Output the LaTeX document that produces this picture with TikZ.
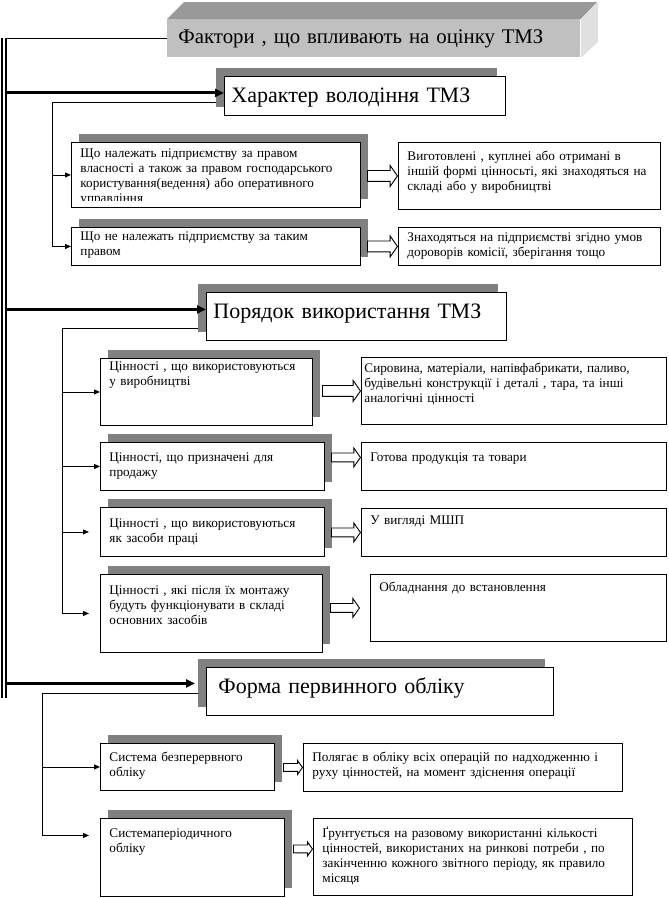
\documentclass[tikz,border=0pt]{standalone}
\usepackage{fontspec}
\setmainfont{Liberation Serif}
\definecolor{shgray}{RGB}{128,128,128}
\definecolor{tgfront}{RGB}{192,192,192}
\definecolor{tgtop}{RGB}{153,153,153}
\definecolor{tgside}{RGB}{224,224,224}
\usetikzlibrary{arrows.meta,positioning,shapes.arrows,shadows,calc}

\begin{document}
\begin{tikzpicture}[x=1pt, y=-1pt, line width=0.9pt,
  hbox/.style={rectangle, draw, fill=white, anchor=north west, align=left,
               font=\fontsize{22}{26}\selectfont, inner xsep=7pt, inner ysep=4pt, text height=22pt,
               drop shadow={shadow xshift=-8pt, shadow yshift=8pt, fill=shgray, opacity=1}},
  sbox/.style={rectangle, draw, fill=white, anchor=north west, align=left,
               font=\fontsize{13.2}{15}\selectfont, inner xsep=9pt, inner ysep=4pt, text height=12pt,
               drop shadow={shadow xshift=8pt, shadow yshift=8pt, fill=shgray, opacity=1}},
  rbox/.style={rectangle, draw, fill=white, anchor=north west, align=left,
               font=\fontsize{13.2}{15}\selectfont, inner xsep=9pt, inner ysep=4pt, text height=12pt},
  farr/.style={-{Triangle[length=6pt, width=5pt]}},
  harr/.style={-{Triangle[length=9pt, width=8pt]}, line width=3pt},
  barr/.style={single arrow, draw, fill=white, anchor=tip, inner xsep=0pt, inner ysep=5pt,
               minimum width=0pt, single arrow head extend=5pt, single arrow tip angle=110}
]
\useasboundingbox (0,0) rectangle (669,898);

% Title block
\node[fill=tgfront, anchor=north west, minimum width=413pt, minimum height=38pt, inner xsep=11pt,
      text width=391pt, align=left, font=\fontsize{20.8}{24}\selectfont] (title) at (167,19)
      {Фактори , що впливають на оцінку ТМЗ};
\fill[tgtop]  (title.north west) -- ++(17,-17) -- ++(413,0) -- (title.north east) -- cycle;
\fill[tgside] (title.north east) -- ++(17,-17) -- ++(0,40) -- (title.south east) -- cycle;

% Headings
\node[hbox, text width=267pt, text depth=9pt]  (h1) at (224,76)  {Характер володіння ТМЗ};
\node[hbox, text width=286pt, text depth=18pt] (h2) at (206,292) {Порядок використання ТМЗ};
\node[hbox, text width=323pt, text depth=18pt, inner xsep=12pt] (h3) at (206,667) {Форма первинного обліку};

% Kinds of values
\node[sbox, text width=271pt, text height=11pt, text depth=46pt] (s1) at (71,142)
  {Що належать підприємству за правом\\власності~а~також~за~правом~господарського\\користування(ведення) або оперативного\\управління};
\node[sbox, text width=271pt, text height=9pt, text depth=21pt] (s2) at (71,227)
  {Що не належать підприємству за таким\\правом};
\node[sbox, text width=194pt, text height=8pt, text depth=51pt] (s3) at (100,358)
  {Цінності , що використовуються\\у виробництві};
\node[sbox, text width=206pt, text height=15pt, text depth=25pt] (s4) at (100,442)
  {Цінності, що призначені для\\продажу};
\node[sbox, text width=206pt, text height=16pt, text depth=25pt] (s5) at (100,507)
  {Цінності , що використовуються\\як засоби праці};
\node[sbox, text width=204pt, text height=16pt, text depth=54pt] (s6) at (100,574)
  {Цінності , які після їх монтажу\\будуть функціонувати в  складі\\основних засобів};
\node[sbox, text width=156pt, text height=14pt, text depth=25pt] (s7) at (100,743)
  {Система безперервного\\обліку};
\node[sbox, text width=166pt, text height=15pt, text depth=55pt] (s8) at (100,818)
  {Системаперіодичного\\обліку};

% Results
\node[rbox, text width=244pt, text height=14pt, text depth=45pt] (r1) at (398,142)
  {Виготовлені , куплнеі або отримані в\\іншій~формі~цінносьті,~які~знаходяться~на\\складі або у виробництві};
\node[rbox, text width=244pt, text height=10pt, text depth=20pt] (r2) at (398,227)
  {Знаходяться~на~підприємстві~згідно~умов\\дороворів комісії, зберігання тощо};
\node[rbox, text width=299pt, text height=11pt, text depth=48pt, inner xsep=3pt] (r3) at (361,357)
  {Сировина,~матеріали,~напівфабрикати,~паливо,\\будівельні конструкції і деталі , тара, та  інші\\аналогічні цінності};
\node[rbox, text width=287pt, text height=15pt, text depth=25pt] (r4) at (361,442) {Готова продукція та товари};
\node[rbox, text width=287pt, text height=12pt, text depth=28pt] (r5) at (361,508) {У вигляді МШП};
\node[rbox, text width=278pt, text height=13pt, text depth=46pt] (r6) at (370,574) {Обладнання до встановлення};
\node[rbox, text width=301pt, text height=14pt, text depth=26pt] (r7) at (303,743)
  {Полягає~в~обліку~всіх~операцій~по~надходженню~і\\руху цінностей, на  момент здіснення операції};
\node[rbox, text width=301pt, text height=15pt, text depth=54pt] (r8) at (313,818)
  {Ґрунтується на разовому використанні кількості\\цінностей,~використаних~на~ринкові~потреби~,~по\\закінченню кожного звітного періоду, як правило\\місяця};

% cut last line of s1
\fill[white] ([xshift=0.6pt,yshift=0.6pt]s1.south west) rectangle ([xshift=-0.6pt,yshift=7pt]s1.south east);

% Block arrows
\node[barr, minimum height=30pt] (a1) at (r1.west) {};
\node[barr, minimum height=30pt] (a2) at (r2.west) {};
\node[barr, minimum height=38pt] (a3) at (r3.west) {};
\node[barr, minimum height=29pt, inner ysep=4pt] (a4) at ([yshift=9pt]r4.west) {};
\node[barr, minimum height=29pt, inner ysep=4pt] (a5) at (r5.west) {};
\node[barr, minimum height=29pt, inner ysep=4pt] (a6) at ([xshift=-10pt]r6.west) {};
\node[barr, minimum height=19pt, inner ysep=3.5pt, single arrow head extend=3pt] (a7) at (r7.west) {};
\node[barr, minimum height=19pt, inner ysep=3.5pt, single arrow head extend=3pt] (a8) at ([yshift=8pt]r8.west) {};

% Branches
\draw[farr] ([xshift=-8pt,yshift=13pt]h1.south west) -- ++(-164,0) |- (s1.west);
\draw[farr] ([xshift=-8pt,yshift=13pt]h1.south west) -- ++(-164,0) |- (s2.west);
\draw[farr] ([xshift=-8pt,yshift=12pt]h2.south west) -- ++(-136,0) |- (s3.west);
\draw[farr] ([xshift=-8pt,yshift=12pt]h2.south west) -- ++(-136,0) |- (s4.west);
\draw[farr, shorten >=11pt] ([xshift=-8pt,yshift=12pt]h2.south west) -- ++(-136,0) |- (s5.west);
\draw[farr, shorten >=11pt] ([xshift=-8pt,yshift=12pt]h2.south west) -- ++(-136,0) |- (s6.west);
\draw[farr] ([xshift=-8pt,yshift=22pt]h3.south west) -- ++(-156,0) |- (s7.west);
\draw[farr, shorten >=11pt] ([xshift=-8pt,yshift=22pt]h3.south west) -- ++(-156,0) |- ([yshift=22pt]s8.west);

% Main line
\coordinate (bustop) at (4,38);
\coordinate (busbot) at (4,698);
\coordinate (h1in) at ([yshift=3pt]h1.west);
\coordinate (h2in) at ([yshift=7pt]h2.west);
\coordinate (h3in) at ([yshift=8pt]h3.west);
\draw (title.west) -- (title.west -| bustop);
\draw[harr] (h1in -| bustop) -- (h1in);
\draw[harr] (h2in -| bustop) -- (h2in);
\draw[harr, shorten >=11pt] (h3in -| bustop) -- (h3in);
\draw[double, double distance=1.2pt, line width=2.2pt] (bustop) -- (busbot);
\end{tikzpicture}
\end{document}
